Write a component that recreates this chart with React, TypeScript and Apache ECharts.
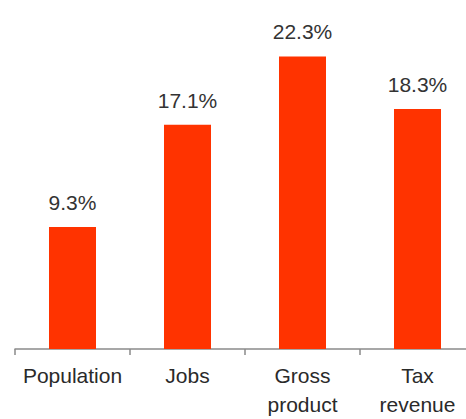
import React, { useEffect, useRef } from "react";
import * as echarts from "echarts";

const categories = ["Population", "Jobs", "Gross\nproduct", "Tax\nrevenue"];
const values = [9.3, 17.1, 22.3, 18.3];

export default function App() {
  const ref = useRef<HTMLDivElement>(null);
  useEffect(() => {
    if (!ref.current) return;
    const chart = echarts.init(ref.current, undefined, { renderer: "svg" });
    chart.setOption({
      animation: false,
      backgroundColor: "#ffffff",
      grid: { left: 15, width: 460, top: 21, bottom: 69, containLabel: false },
      xAxis: {
        type: "category",
        data: categories,
        axisLine: { show: true, lineStyle: { color: "#8a8a8a", width: 1.5 } },
        axisTick: { show: true, length: 6, lineStyle: { color: "#8a8a8a", width: 1.5 } },
        axisLabel: {
          color: "#2a2a2a",
          fontSize: 21,
          fontFamily: "'Liberation Sans', Arial, sans-serif",
          margin: 12,
          lineHeight: 29,
          interval: 0,
        },
      },
      yAxis: {
        type: "value",
        min: 0,
        max: 25,
        show: false,
        splitLine: { show: false },
      },
      series: [
        {
          type: "bar",
          data: values,
          barWidth: 47,
          itemStyle: { color: "#ff3300" },
          label: {
            show: true,
            position: "top",
            distance: 14,
            formatter: (p: any) => p.value.toFixed(1) + "%",
            color: "#333333",
            fontSize: 21,
            fontFamily: "'Liberation Sans', Arial, sans-serif",
          },
        },
      ],
    });
    return () => chart.dispose();
  }, []);
  return (
    <div
      style={{
        position: "fixed",
        left: 0,
        top: 0,
        width: 466,
        height: 419,
        overflow: "hidden",
        background: "#ffffff",
      }}
    >
      <div ref={ref} style={{ width: 490, height: 419 }} />
    </div>
  );
}
